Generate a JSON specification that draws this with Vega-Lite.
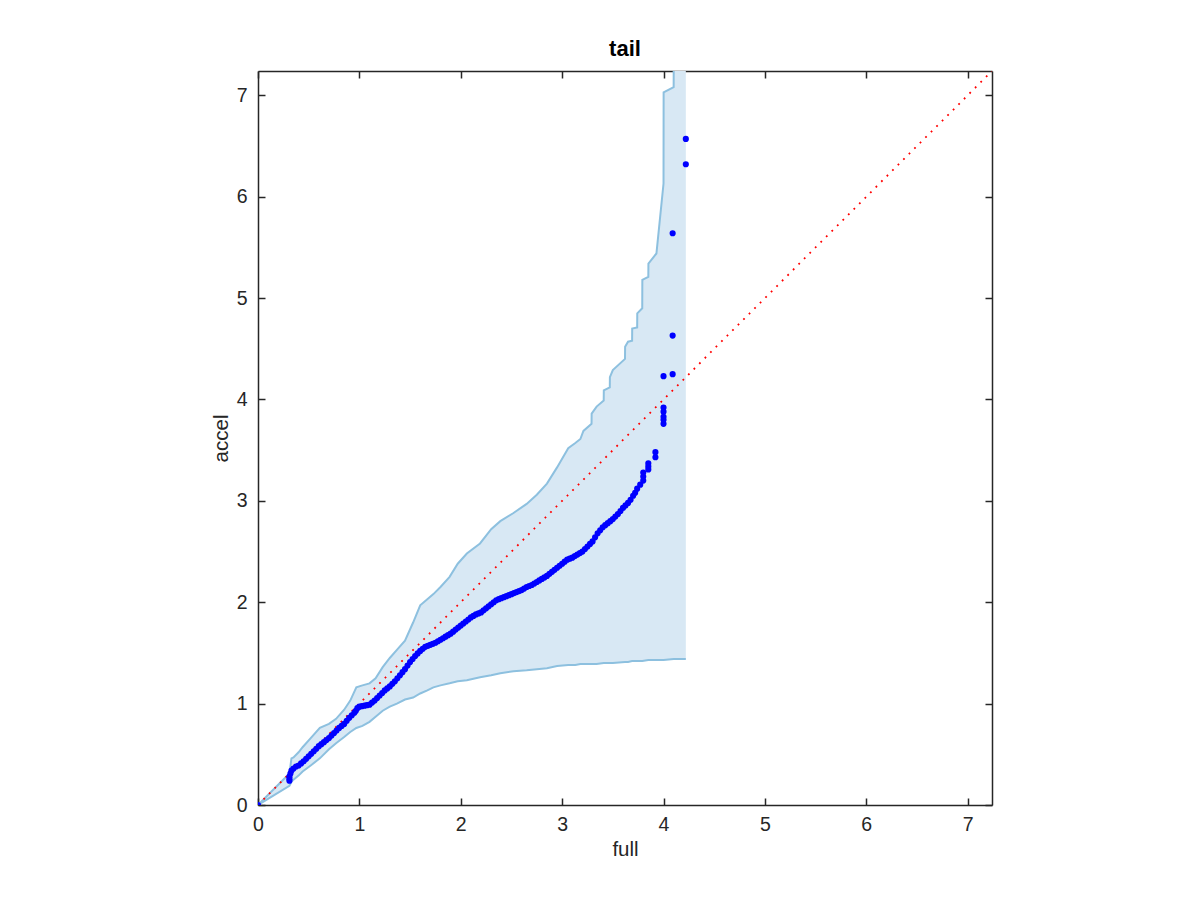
{
  "$schema": "https://vega.github.io/schema/vega-lite/v6.json",
  "autosize": {"type": "none"},
  "padding": {"left": 258, "top": 71, "right": 208, "bottom": 95},
  "width": 734,
  "height": 734,
  "background": "white",
  "config": {
    "view": {"stroke": null},
    "font": "Liberation Sans",
    "axis": {
      "grid": false,
      "domainColor": "#262626",
      "domainWidth": 1.5,
      "tickColor": "#262626",
      "tickWidth": 1.5,
      "tickSize": -7,
      "labelColor": "#262626",
      "labelFont": "Liberation Sans",
      "labelFontSize": 19.5,
      "labelFlush": false,
      "titleFont": "Liberation Sans",
      "titleFontSize": 20.5,
      "titleFontWeight": "normal",
      "titleColor": "#262626"
    }
  },
  "title": {"text": "tail", "font": "Liberation Sans", "fontSize": 22, "fontWeight": "bold", "color": "#000000", "offset": 9},
  "datasets": {
    "band": [
      {"x": 0, "lo": 0, "hi": 0},
      {"x": 0.31, "lo": 0.19, "hi": 0.31},
      {"x": 0.33, "lo": 0.23, "hi": 0.46},
      {"x": 0.35, "lo": 0.25, "hi": 0.47},
      {"x": 0.40, "lo": 0.29, "hi": 0.52},
      {"x": 0.44, "lo": 0.33, "hi": 0.57},
      {"x": 0.52, "lo": 0.39, "hi": 0.66},
      {"x": 0.61, "lo": 0.46, "hi": 0.76},
      {"x": 0.70, "lo": 0.55, "hi": 0.80},
      {"x": 0.77, "lo": 0.61, "hi": 0.85},
      {"x": 0.85, "lo": 0.67, "hi": 0.94},
      {"x": 0.91, "lo": 0.72, "hi": 1.03},
      {"x": 0.97, "lo": 0.76, "hi": 1.16},
      {"x": 1.03, "lo": 0.78, "hi": 1.18},
      {"x": 1.10, "lo": 0.82, "hi": 1.20},
      {"x": 1.16, "lo": 0.87, "hi": 1.25},
      {"x": 1.23, "lo": 0.93, "hi": 1.36},
      {"x": 1.30, "lo": 0.97, "hi": 1.45},
      {"x": 1.37, "lo": 1.00, "hi": 1.53},
      {"x": 1.45, "lo": 1.04, "hi": 1.62},
      {"x": 1.53, "lo": 1.06, "hi": 1.80},
      {"x": 1.60, "lo": 1.10, "hi": 1.97},
      {"x": 1.67, "lo": 1.13, "hi": 2.03},
      {"x": 1.73, "lo": 1.16, "hi": 2.08},
      {"x": 1.80, "lo": 1.18, "hi": 2.15},
      {"x": 1.89, "lo": 1.20, "hi": 2.25},
      {"x": 1.97, "lo": 1.22, "hi": 2.38},
      {"x": 2.06, "lo": 1.23, "hi": 2.48},
      {"x": 2.19, "lo": 1.26, "hi": 2.58},
      {"x": 2.30, "lo": 1.28, "hi": 2.72},
      {"x": 2.39, "lo": 1.30, "hi": 2.80},
      {"x": 2.52, "lo": 1.32, "hi": 2.88},
      {"x": 2.65, "lo": 1.33, "hi": 2.97},
      {"x": 2.75, "lo": 1.34, "hi": 3.06},
      {"x": 2.85, "lo": 1.35, "hi": 3.17},
      {"x": 2.95, "lo": 1.37, "hi": 3.33},
      {"x": 3.06, "lo": 1.38, "hi": 3.52},
      {"x": 3.13, "lo": 1.38, "hi": 3.57},
      {"x": 3.18, "lo": 1.39, "hi": 3.61},
      {"x": 3.21, "lo": 1.39, "hi": 3.69},
      {"x": 3.29, "lo": 1.39, "hi": 3.76},
      {"x": 3.291, "lo": 1.39, "hi": 3.86},
      {"x": 3.34, "lo": 1.39, "hi": 3.93},
      {"x": 3.41, "lo": 1.40, "hi": 3.99},
      {"x": 3.411, "lo": 1.40, "hi": 4.09},
      {"x": 3.47, "lo": 1.40, "hi": 4.12},
      {"x": 3.471, "lo": 1.40, "hi": 4.22},
      {"x": 3.50, "lo": 1.40, "hi": 4.29},
      {"x": 3.62, "lo": 1.41, "hi": 4.40},
      {"x": 3.621, "lo": 1.41, "hi": 4.52},
      {"x": 3.65, "lo": 1.41, "hi": 4.57},
      {"x": 3.69, "lo": 1.42, "hi": 4.58},
      {"x": 3.691, "lo": 1.42, "hi": 4.70},
      {"x": 3.74, "lo": 1.42, "hi": 4.71},
      {"x": 3.741, "lo": 1.42, "hi": 4.85},
      {"x": 3.79, "lo": 1.42, "hi": 4.90},
      {"x": 3.791, "lo": 1.42, "hi": 5.18},
      {"x": 3.85, "lo": 1.43, "hi": 5.21},
      {"x": 3.851, "lo": 1.43, "hi": 5.34},
      {"x": 3.93, "lo": 1.43, "hi": 5.44},
      {"x": 4.00, "lo": 1.43, "hi": 6.13},
      {"x": 4.001, "lo": 1.43, "hi": 7.03},
      {"x": 4.10, "lo": 1.44, "hi": 7.08},
      {"x": 4.101, "lo": 1.44, "hi": 7.5},
      {"x": 4.22, "lo": 1.44, "hi": 7.5}
    ],
    "diag": [
      {"x": 0, "y": 0},
      {"x": 7.5, "y": 7.5}
    ],
    "pts": [
      {"x": 0, "y": 0},
      {"x": 0.31, "y": 0.24}, {"x": 0.31, "y": 0.26}, {"x": 0.31, "y": 0.28},
      {"x": 0.32, "y": 0.31}, {"x": 0.33, "y": 0.34}, {"x": 0.35, "y": 0.36},
      {"x": 0.375, "y": 0.38}, {"x": 0.40, "y": 0.39}, {"x": 0.425, "y": 0.41},
      {"x": 0.45, "y": 0.43}, {"x": 0.475, "y": 0.455}, {"x": 0.50, "y": 0.48},
      {"x": 0.525, "y": 0.505}, {"x": 0.55, "y": 0.53}, {"x": 0.575, "y": 0.555},
      {"x": 0.60, "y": 0.58}, {"x": 0.625, "y": 0.60}, {"x": 0.65, "y": 0.62},
      {"x": 0.675, "y": 0.64}, {"x": 0.70, "y": 0.66}, {"x": 0.725, "y": 0.685},
      {"x": 0.75, "y": 0.71}, {"x": 0.775, "y": 0.735}, {"x": 0.80, "y": 0.76},
      {"x": 0.825, "y": 0.78}, {"x": 0.85, "y": 0.80}, {"x": 0.875, "y": 0.83},
      {"x": 0.90, "y": 0.86}, {"x": 0.925, "y": 0.885}, {"x": 0.95, "y": 0.91},
      {"x": 0.965, "y": 0.93}, {"x": 0.98, "y": 0.955}, {"x": 1.00, "y": 0.97},
      {"x": 1.025, "y": 0.975}, {"x": 1.05, "y": 0.98}, {"x": 1.075, "y": 0.985},
      {"x": 1.10, "y": 0.99}, {"x": 1.125, "y": 1.01}, {"x": 1.15, "y": 1.03},
      {"x": 1.175, "y": 1.055}, {"x": 1.20, "y": 1.08}, {"x": 1.225, "y": 1.105},
      {"x": 1.25, "y": 1.13}, {"x": 1.275, "y": 1.15}, {"x": 1.30, "y": 1.17},
      {"x": 1.325, "y": 1.195}, {"x": 1.35, "y": 1.22}, {"x": 1.375, "y": 1.25},
      {"x": 1.40, "y": 1.28}, {"x": 1.425, "y": 1.31}, {"x": 1.45, "y": 1.34},
      {"x": 1.475, "y": 1.375}, {"x": 1.50, "y": 1.41}, {"x": 1.525, "y": 1.44},
      {"x": 1.55, "y": 1.47}, {"x": 1.575, "y": 1.495}, {"x": 1.60, "y": 1.52},
      {"x": 1.625, "y": 1.54}, {"x": 1.65, "y": 1.56}, {"x": 1.675, "y": 1.57},
      {"x": 1.70, "y": 1.58}, {"x": 1.725, "y": 1.59}, {"x": 1.75, "y": 1.60},
      {"x": 1.775, "y": 1.615}, {"x": 1.80, "y": 1.63}, {"x": 1.825, "y": 1.645},
      {"x": 1.85, "y": 1.66}, {"x": 1.875, "y": 1.675}, {"x": 1.90, "y": 1.69},
      {"x": 1.925, "y": 1.71}, {"x": 1.95, "y": 1.73}, {"x": 1.975, "y": 1.75},
      {"x": 2.00, "y": 1.77}, {"x": 2.025, "y": 1.79}, {"x": 2.05, "y": 1.81},
      {"x": 2.075, "y": 1.83}, {"x": 2.10, "y": 1.85}, {"x": 2.125, "y": 1.865},
      {"x": 2.15, "y": 1.88}, {"x": 2.175, "y": 1.89}, {"x": 2.20, "y": 1.90},
      {"x": 2.225, "y": 1.92}, {"x": 2.25, "y": 1.94}, {"x": 2.275, "y": 1.96},
      {"x": 2.30, "y": 1.98}, {"x": 2.325, "y": 2.00}, {"x": 2.35, "y": 2.02},
      {"x": 2.375, "y": 2.03}, {"x": 2.40, "y": 2.04}, {"x": 2.425, "y": 2.05},
      {"x": 2.45, "y": 2.06}, {"x": 2.475, "y": 2.07}, {"x": 2.50, "y": 2.08},
      {"x": 2.525, "y": 2.09}, {"x": 2.55, "y": 2.10}, {"x": 2.575, "y": 2.11},
      {"x": 2.60, "y": 2.12}, {"x": 2.625, "y": 2.135}, {"x": 2.65, "y": 2.15},
      {"x": 2.675, "y": 2.16}, {"x": 2.70, "y": 2.17}, {"x": 2.725, "y": 2.185},
      {"x": 2.75, "y": 2.20}, {"x": 2.775, "y": 2.215}, {"x": 2.80, "y": 2.23},
      {"x": 2.825, "y": 2.245}, {"x": 2.85, "y": 2.26}, {"x": 2.875, "y": 2.28},
      {"x": 2.90, "y": 2.30}, {"x": 2.925, "y": 2.32}, {"x": 2.95, "y": 2.34},
      {"x": 2.975, "y": 2.36}, {"x": 3.00, "y": 2.38}, {"x": 3.025, "y": 2.40},
      {"x": 3.05, "y": 2.42}, {"x": 3.075, "y": 2.43}, {"x": 3.10, "y": 2.44},
      {"x": 3.125, "y": 2.455}, {"x": 3.15, "y": 2.47}, {"x": 3.175, "y": 2.485},
      {"x": 3.20, "y": 2.50}, {"x": 3.225, "y": 2.525}, {"x": 3.25, "y": 2.55},
      {"x": 3.275, "y": 2.575}, {"x": 3.30, "y": 2.60}, {"x": 3.325, "y": 2.64},
      {"x": 3.35, "y": 2.68}, {"x": 3.375, "y": 2.71}, {"x": 3.40, "y": 2.74},
      {"x": 3.425, "y": 2.76}, {"x": 3.45, "y": 2.78}, {"x": 3.475, "y": 2.80},
      {"x": 3.50, "y": 2.82}, {"x": 3.525, "y": 2.845}, {"x": 3.55, "y": 2.87},
      {"x": 3.575, "y": 2.90}, {"x": 3.60, "y": 2.93}, {"x": 3.625, "y": 2.955},
      {"x": 3.65, "y": 2.98}, {"x": 3.675, "y": 3.01}, {"x": 3.70, "y": 3.05},
      {"x": 3.72, "y": 3.08}, {"x": 3.74, "y": 3.12}, {"x": 3.77, "y": 3.16},
      {"x": 3.80, "y": 3.20}, {"x": 3.80, "y": 3.24}, {"x": 3.80, "y": 3.28},
      {"x": 3.85, "y": 3.31}, {"x": 3.85, "y": 3.34}, {"x": 3.85, "y": 3.37},
      {"x": 3.92, "y": 3.43}, {"x": 3.92, "y": 3.48},
      {"x": 4.00, "y": 3.76}, {"x": 4.00, "y": 3.80}, {"x": 4.00, "y": 3.83},
      {"x": 4.00, "y": 3.88}, {"x": 4.00, "y": 3.92}, {"x": 4.00, "y": 4.23},
      {"x": 4.09, "y": 4.25}, {"x": 4.09, "y": 4.63}, {"x": 4.09, "y": 5.64},
      {"x": 4.22, "y": 6.32}, {"x": 4.22, "y": 6.57}
    ]
  },
  "layer": [
    {
      "data": {"name": "band"},
      "mark": {"type": "area", "color": "#d8e8f4", "opacity": 1, "clip": true},
      "encoding": {
        "x": {"field": "x", "type": "quantitative", "scale": {"domain": [0, 7.24], "nice": false, "zero": false},
              "axis": {"orient": "bottom", "title": "full", "values": [0,1,2,3,4,5,6,7], "labelPadding": 17, "titlePadding": 6, "labelBaseline": "top"}},
        "y": {"field": "lo", "type": "quantitative", "scale": {"domain": [0, 7.24], "nice": false, "zero": false},
              "axis": {"orient": "left", "title": "accel", "values": [0,1,2,3,4,5,6,7], "labelPadding": 18, "titlePadding": 5}},
        "y2": {"field": "hi"}
      }
    },
    {
      "data": {"name": "band"},
      "mark": {"type": "line", "color": "#8dc0df", "strokeWidth": 2, "clip": true},
      "encoding": {
        "x": {"field": "x", "type": "quantitative", "axis": {"orient": "top", "title": null, "labels": false, "values": [0,1,2,3,4,5,6,7]}},
        "y": {"field": "lo", "type": "quantitative", "axis": {"orient": "right", "title": null, "labels": false, "values": [0,1,2,3,4,5,6,7]}}
      }
    },
    {
      "data": {"name": "band"},
      "mark": {"type": "line", "color": "#8dc0df", "strokeWidth": 2, "clip": true},
      "encoding": {
        "x": {"field": "x", "type": "quantitative", "axis": null},
        "y": {"field": "hi", "type": "quantitative", "axis": null}
      }
    },
    {
      "data": {"name": "diag"},
      "mark": {"type": "line", "color": "#ff0000", "strokeWidth": 1.8, "strokeDash": [1.8, 6], "clip": true},
      "encoding": {
        "x": {"field": "x", "type": "quantitative", "axis": null},
        "y": {"field": "y", "type": "quantitative", "axis": null}
      }
    },
    {
      "data": {"name": "pts"},
      "mark": {"type": "circle", "color": "#0000ff", "opacity": 1, "size": 38, "clip": true},
      "encoding": {
        "x": {"field": "x", "type": "quantitative", "axis": null},
        "y": {"field": "y", "type": "quantitative", "axis": null}
      }
    }
  ],
  "resolve": {"axis": {"x": "independent", "y": "independent"}}
}
